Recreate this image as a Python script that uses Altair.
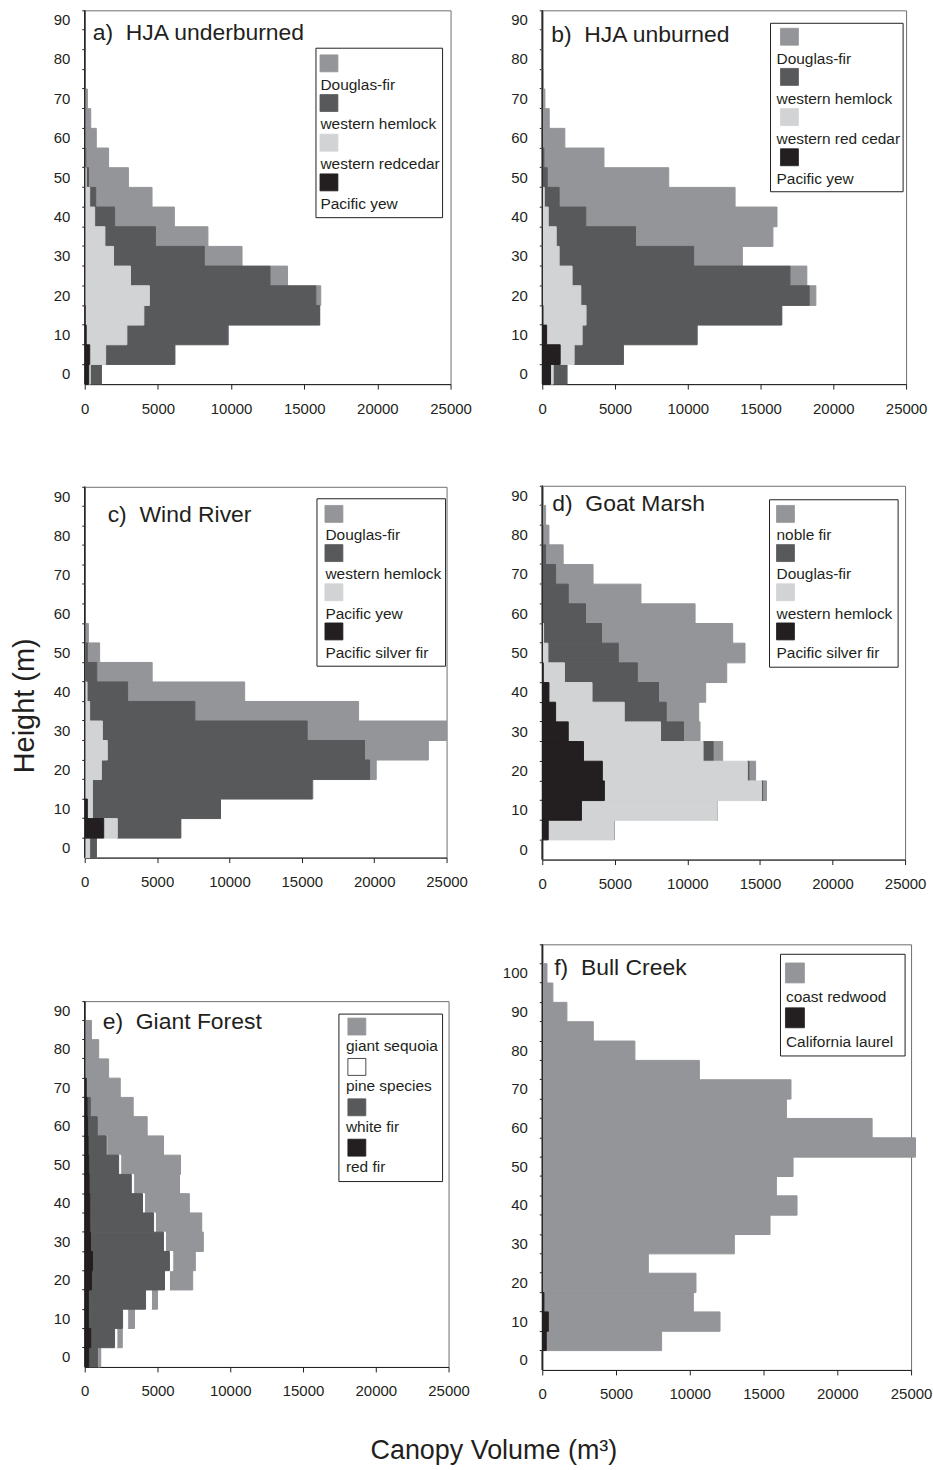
import altair as alt
import pandas as pd

FONT = "Liberation Sans"
MED = "#939598"
DARK = "#58595b"
LIGHT = "#d1d3d4"
BLACK = "#231f20"
WHITE = "#ffffff"

heights_19 = list(range(0, 95, 5))
heights_22 = list(range(0, 110, 5))
x_ticks = [0, 5000, 10000, 15000, 20000, 25000]

# a) HJA underburned
a_species = ["Douglas-fir", "western hemlock", "western redcedar", "Pacific yew"]
a_douglas_fir = [0, 0, 30, 30, 340, 1200, 2580, 3590, 4085, 3850, 2725, 1560, 790, 410, 180, 0, 0, 0, 0]
a_hemlock = [755, 4720, 6900, 12000, 11370, 9530, 6200, 3450, 1360, 410, 160, 70, 0, 0, 0, 0, 0, 0, 0]
a_redcedar = [110, 1090, 2780, 4010, 4420, 3130, 1970, 1380, 680, 340, 100, 0, 0, 0, 0, 0, 0, 0, 0]
a_yew = [270, 340, 100, 30, 0, 0, 0, 0, 0, 0, 0, 0, 0, 0, 0, 0, 0, 0, 0]

# b) HJA unburned
b_species = ["Douglas-fir", "western hemlock", "western red cedar", "Pacific yew"]
b_douglas_fir = [0, 0, 0, 0, 460, 1160, 3350, 9440, 13140, 12090, 8350, 4130, 1550, 480, 180, 70, 30, 0, 0]
b_hemlock = [940, 3380, 7890, 13440, 15690, 14970, 9240, 5450, 2580, 1020, 340, 110, 0, 0, 0, 0, 0, 0, 0]
b_redcedar = [180, 960, 2440, 2960, 2650, 2050, 1160, 960, 410, 140, 0, 0, 0, 0, 0, 0, 0, 0, 0]
b_yew = [570, 1230, 300, 50, 0, 0, 0, 0, 0, 0, 0, 0, 0, 0, 0, 0, 0, 0, 0]

# c) Wind River
c_species = ["Douglas-fir", "western hemlock", "Pacific yew", "Pacific silver fir"]
c_douglas_fir = [0, 0, 0, 50, 460, 4410, 9630, 11310, 8090, 3830, 850, 250, 0, 0, 0, 0, 0, 0, 0]
c_hemlock = [460, 4380, 8850, 15180, 18530, 17770, 14150, 7270, 2800, 830, 180, 0, 0, 0, 0, 0, 0, 0, 0]
c_yew = [340, 940, 350, 530, 1150, 1560, 1220, 340, 160, 0, 0, 0, 0, 0, 0, 0, 0, 0, 0]
c_silver_fir = [0, 1310, 180, 0, 0, 0, 0, 0, 0, 0, 0, 0, 0, 0, 0, 0, 0, 0, 0]

# d) Goat Marsh
d_species = ["noble fir", "Douglas-fir", "western hemlock", "Pacific silver fir"]
d_noble_fir = [0, 0, 0, 270, 460, 660, 1140, 2240, 3250, 6160, 8730, 9040, 7550, 5010, 2580, 1210, 410, 230, 60]
d_douglas_fir = [0, 0, 0, 70, 110, 690, 1580, 2890, 4580, 5020, 4850, 3990, 2980, 1790, 920, 230, 50, 0, 0]
d_hemlock = [0, 4540, 9360, 10830, 9990, 8240, 6360, 4730, 2970, 1460, 390, 90, 0, 0, 0, 0, 0, 0, 0]
d_silver_fir = [0, 410, 2700, 4280, 4140, 2840, 1790, 920, 460, 70, 0, 0, 0, 0, 0, 0, 0, 0, 0]

# e) Giant Forest
e_species = ["giant sequoia", "pine species", "white fir", "red fir"]
e_sequoia = [190, 370, 470, 410, 1600, 1550, 2600, 3180, 3080, 3150, 4110, 3900, 3420, 2940, 2330, 1640, 960, 460, 0]
e_pine = [0, 160, 350, 410, 340, 230, 140, 130, 140, 160, 140, 30, 0, 0, 0, 0, 0, 0, 0]
e_white_fir = [640, 1640, 2350, 3930, 5020, 5290, 5020, 4390, 3630, 2900, 2060, 1250, 670, 230, 20, 0, 0, 0, 0]
e_red_fir = [270, 410, 250, 250, 460, 530, 390, 340, 340, 300, 270, 230, 200, 160, 90, 0, 0, 0, 0]

# f) Bull Creek
f_species = ["coast redwood", "California laurel"]
f_redwood = [0, 7820, 11640, 10130, 10420, 7190, 13020, 15440, 17270, 15870, 17000, 25300,
             22360, 16550, 16860, 10650, 6280, 3460, 1670, 720, 320, 0]
f_laurel = [0, 270, 410, 110, 0, 0, 0, 0, 0, 0, 0, 0, 0, 0, 0, 0, 0, 0, 0, 0, 0, 0]

COLORS4 = [MED, DARK, LIGHT, BLACK]
INDEP = dict(color="independent", stroke="independent")


def make_panel(label, label_xy, heights, species, colors, outlines, values, w, h, leg):
    n = len(species)
    rows = []
    for i, (sp, vals) in enumerate(zip(species, values)):
        for hg, v in zip(heights, vals):
            rows.append({"height": str(hg), "species": sp, "volume": v, "stack": n - 1 - i})
    df = pd.DataFrame(rows)
    order = [str(v) for v in reversed(heights)]
    color_scale = alt.Scale(domain=species, range=colors)

    bars = alt.Chart(df).mark_bar(strokeWidth=1).encode(
        x=alt.X("volume:Q", stack="zero",
                scale=alt.Scale(domain=[0, 25000], nice=False),
                axis=alt.Axis(values=x_ticks, format="d", title=None, tickSize=5,
                              labelPadding=12, labelFlush=False, labelOverlap=False, grid=False)),
        y=alt.Y("height:O", sort=order,
                scale=alt.Scale(paddingInner=0, paddingOuter=0),
                axis=alt.Axis(title=None, bandPosition=0, tickSize=3, labelPadding=12,
                              minExtent=42, labelOverlap=False, grid=False,
                              labelExpr="toNumber(datum.value) % 10 == 0 ? datum.value : ''")),
        color=alt.Color("species:N", scale=color_scale, legend=None),
        stroke=alt.Stroke("species:N", scale=alt.Scale(domain=species, range=colors), legend=None),
        order=alt.Order("stack:Q", sort="ascending"),
    )

    one = pd.DataFrame({"k": [0]})
    bx0, by0, bx1, by1 = leg["box"]
    box = alt.Chart(one).mark_rect(fill=WHITE, stroke=BLACK, strokeWidth=1).encode(
        x=alt.value(bx0), x2=alt.value(bx1), y=alt.value(by0), y2=alt.value(by1))

    leg_df = pd.DataFrame({"species": species, "idx": list(range(n))})
    top, pitch = leg["top"], leg["pitch"]
    swatches = alt.Chart(leg_df).transform_calculate(
        sy=f"{top} + datum.idx * {pitch}",
        sy2=f"{top} + datum.idx * {pitch} + {leg['sh']}",
    ).mark_rect(strokeWidth=0.8).encode(
        x=alt.value(leg["sx"]), x2=alt.value(leg["sx"] + leg["sw"]),
        y=alt.Y("sy:Q", scale=None, axis=None), y2="sy2:Q",
        color=alt.Color("species:N", scale=color_scale, legend=None),
        stroke=alt.Stroke("species:N", scale=alt.Scale(domain=species, range=outlines), legend=None),
    )
    texts = alt.Chart(leg_df).transform_calculate(
        ty=f"{top} + datum.idx * {pitch} + {leg['bo']}",
    ).mark_text(align="left", baseline="alphabetic", font=FONT, fontSize=15.5, color=BLACK).encode(
        x=alt.value(leg["tx"]), y=alt.Y("ty:Q", scale=None, axis=None), text="species:N")

    title = alt.Chart(one).mark_text(align="left", baseline="alphabetic", font=FONT,
                                     fontSize=23, color=BLACK).encode(
        x=alt.value(label_xy[0]), y=alt.value(label_xy[1]), text=alt.value(label))

    return alt.layer(bars, box, swatches, texts, title).resolve_scale(
        stroke="independent").properties(width=w, height=h)


NB = "\u00a0\u00a0"

pa = make_panel("a)" + NB + "HJA underburned", (8, 30), heights_19, a_species, COLORS4, COLORS4,
                [a_douglas_fir, a_hemlock, a_redcedar, a_yew], 367, 375,
                dict(box=(232, 38, 359, 208), sx=236, sw=18, sh=17, top=44.7, pitch=39.8, tx=236.5, bo=35))
pb = make_panel("b)" + NB + "HJA unburned", (9, 32), heights_19, b_species, COLORS4, COLORS4,
                [b_douglas_fir, b_hemlock, b_redcedar, b_yew], 365, 375,
                dict(box=(229, 13, 362, 182), sx=239, sw=18, sh=17, top=18, pitch=40.3, tx=235, bo=35.7))
pc = make_panel("c)" + NB + "Wind River", (23, 35), heights_19, c_species, COLORS4, COLORS4,
                [c_douglas_fir, c_hemlock, c_yew, c_silver_fir], 363, 372,
                dict(box=(233, 12, 362, 180), sx=241, sw=18, sh=17, top=18.7, pitch=39.3, tx=241.5, bo=35))
pd_ = make_panel("d)" + NB + "Goat Marsh", (10, 25), heights_19, d_species, COLORS4, COLORS4,
                 [d_noble_fir, d_douglas_fir, d_hemlock, d_silver_fir], 364, 375,
                 dict(box=(228, 14, 357, 182), sx=235, sw=18, sh=17, top=19.7, pitch=39.3, tx=235, bo=35))
pe = make_panel("e)" + NB + "Giant Forest", (18, 28), heights_19, e_species,
                [MED, WHITE, DARK, BLACK], [MED, BLACK, DARK, BLACK],
                [e_sequoia, e_pine, e_white_fir, e_red_fir], 365, 367,
                dict(box=(255, 13, 359, 181), sx=264, sw=18, sh=17, top=17, pitch=40.5, tx=262, bo=33))
pf = make_panel("f)" + NB + "Bull Creek", (12, 31), heights_22, f_species, [MED, BLACK], [MED, BLACK],
                [f_redwood, f_laurel], 370, 427,
                dict(box=(239, 10, 364, 112), sx=244, sw=19, sh=20, top=18.7, pitch=45, tx=244.5, bo=39))

col_left = alt.vconcat(
    alt.vconcat(pa, pc, spacing=69).resolve_scale(**INDEP), pe, spacing=110
).resolve_scale(**INDEP)
col_right = alt.vconcat(
    alt.vconcat(pb, pd_, spacing=68).resolve_scale(**INDEP), pf, spacing=51
).resolve_scale(**INDEP)

grid = alt.hconcat(
    col_left, col_right, spacing=27,
    title=alt.Title("Height (m)", orient="left", anchor="middle", fontSize=29, font=FONT,
                    fontWeight="normal", color=BLACK, offset=2),
).resolve_scale(**INDEP)

chart = alt.vconcat(
    grid,
    title=alt.Title("Canopy Volume (m\u00b3)", orient="bottom", anchor="middle", fontSize=27, font=FONT,
                    fontWeight="normal", color=BLACK, offset=36, dx=22),
).resolve_scale(**INDEP).properties(
    padding={"left": 11, "top": 7, "right": 0, "bottom": 0}
).configure_view(
    stroke="#6d6e71", strokeWidth=1
).configure_axis(
    labelFont=FONT, labelFontSize=15, labelColor=BLACK, domainColor=BLACK, tickColor=BLACK,
    domainWidth=1, tickWidth=1, grid=False
)

chart.save("out.html", embed_options={"renderer": "svg", "actions": False})
